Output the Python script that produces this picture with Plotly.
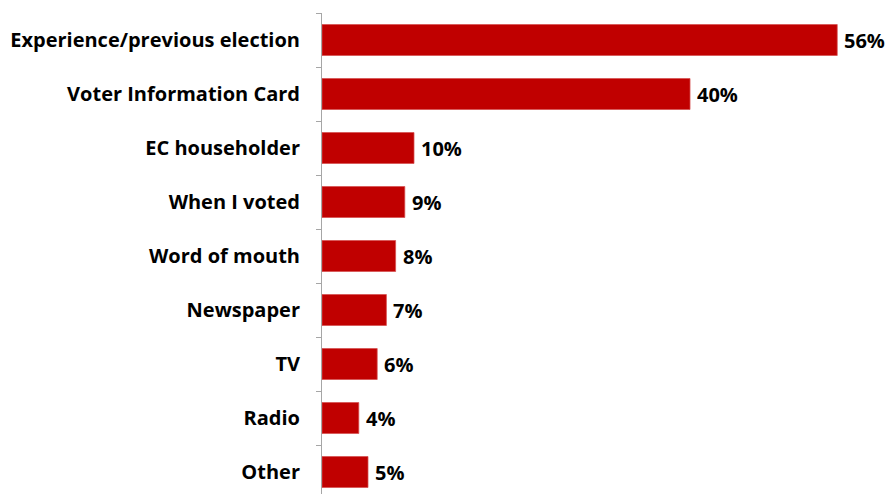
import plotly.graph_objects as go

# Sources of information, share of respondents (%)
categories = [
    "Experience/previous election",
    "Voter Information Card",
    "EC householder",
    "When I voted",
    "Word of mouth",
    "Newspaper",
    "TV",
    "Radio",
    "Other",
]
values = [56, 40, 10, 9, 8, 7, 6, 4, 5]
value_labels = [f"{v}%" for v in values]

BAR_RED = "#C00000"
AXIS_GREY = "#A6A6A6"
FONT = "Open Sans"
FONT_SIZE = 20

fig = go.Figure(
    go.Bar(
        x=values,
        y=categories,
        orientation="h",
        marker=dict(color=BAR_RED, line=dict(color="#D65050", width=0.75)),
        hoverinfo="skip",
    )
)

# Value labels just beyond the end of each bar
for cat, v, lab in zip(categories, values, value_labels):
    fig.add_annotation(
        x=v,
        y=cat,
        text=lab,
        showarrow=False,
        xanchor="left",
        yanchor="middle",
        xshift=5,
        font=dict(family=FONT, size=FONT_SIZE, color="#000000", weight="bold"),
    )

fig.update_layout(
    width=886,
    height=494,
    margin=dict(l=322, r=0, t=13, b=0),
    paper_bgcolor="white",
    plot_bgcolor="white",
    bargap=0.426,
    showlegend=False,
    font=dict(family=FONT, color="#000000"),
)

fig.update_xaxes(
    range=[0, 61.3],
    visible=False,
    showgrid=False,
    zeroline=False,
)

fig.update_yaxes(
    type="category",
    categoryorder="array",
    categoryarray=categories,
    range=[8.407, -0.5],
    showline=True,
    linecolor=AXIS_GREY,
    linewidth=1,
    ticks="outside",
    tickson="boundaries",
    ticklen=5,
    tickcolor=AXIS_GREY,
    tickwidth=1,
    showgrid=False,
    zeroline=False,
    ticklabelstandoff=17,
    tickfont=dict(family=FONT, size=FONT_SIZE, color="#000000", weight="bold"),
)

fig.write_html("out.html")
